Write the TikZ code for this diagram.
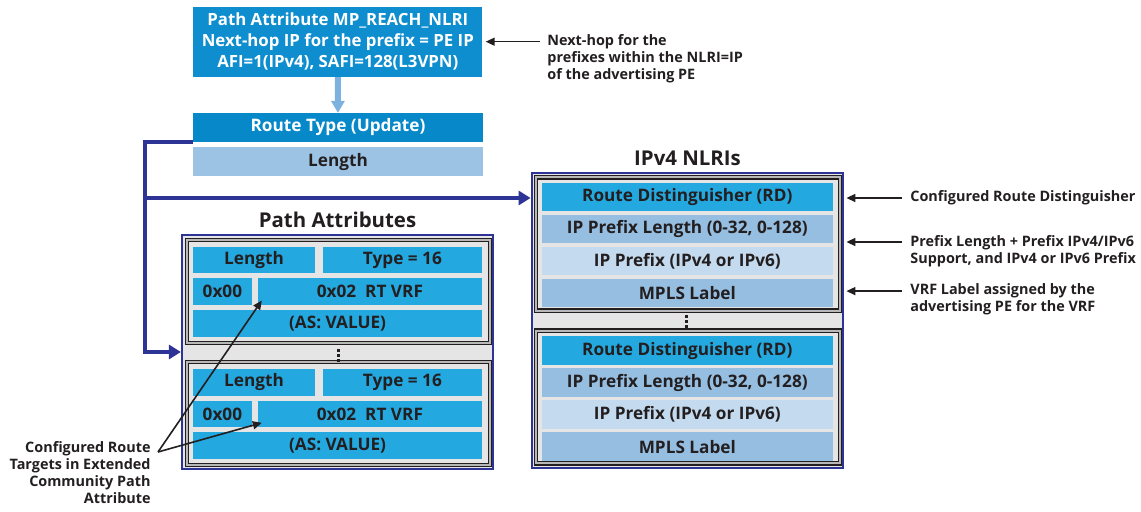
\documentclass[tikz,border=0pt]{standalone}
\usepackage{fontspec}
\setmainfont{Open Sans}
\usepackage{tikz}
\usetikzlibrary{arrows.meta, positioning, calc}
\definecolor{hopblue}{RGB}{14,142,207}
\definecolor{typeblue}{RGB}{6,136,201}
\definecolor{lenblue}{RGB}{157,195,228}
\definecolor{cellblue}{RGB}{36,168,224}
\definecolor{midblue}{RGB}{150,190,225}
\definecolor{paleblue}{RGB}{196,218,238}
\definecolor{panelgray}{RGB}{229,229,229}
\definecolor{trunknavy}{RGB}{46,52,150}
\definecolor{feedblue}{RGB}{125,178,224}
\definecolor{inkdark}{RGB}{35,31,32}
\newcommand{\cellfont}{\fontsize{8.6}{10}\selectfont\bfseries}
\newcommand{\hopfont}{\fontsize{8.4}{10.5}\selectfont\bfseries}
\newcommand{\headfont}{\fontsize{10.2}{12}\selectfont\bfseries}
\newcommand{\notefont}{\fontsize{7.2}{8.5}\selectfont\bfseries}

\begin{document}
\begin{tikzpicture}[
        x=0.5pt, y=-0.5pt,
        node distance=1.4pt,
        field/.style={rectangle, inner sep=0pt, font=\cellfont, text=inkdark, minimum height=13.4pt},
        rdfield/.style={field, fill=cellblue, minimum width=145.3pt, minimum height=14.2pt},
        lenfield/.style={field, fill=midblue, minimum width=145.3pt, minimum height=14.2pt},
        pfxfield/.style={field, fill=paleblue, minimum width=145.3pt, minimum height=14.2pt},
        panel/.style={rectangle, draw=trunknavy, line width=1.1pt, fill=panelgray},
        block/.style={rectangle, draw=inkdark, double=white!72!black, double distance=0.9pt, line width=0.7pt, fill=panelgray},
        heading/.style={font=\headfont, text=inkdark, inner sep=0pt},
        note/.style={font=\notefont, text=inkdark, inner sep=0pt},
        pointer/.style={-{Triangle[length=4.5pt, width=4pt]}, line width=0.8pt, draw=inkdark},
        trunk/.style={-{Triangle[length=6pt, width=7pt]}, line width=2pt, draw=trunknavy, line join=miter},
        feed/.style={-{Triangle[length=6pt, width=6.5pt]}, line width=3pt, draw=feedblue}
    ]
        \useasboundingbox (0,0) rectangle (1141,512);

        \node[rectangle, fill=hopblue, text=white, font=\hopfont, align=center, minimum width=144.5pt, minimum height=35pt, inner sep=0pt] (hop) at (337.8,41.7) {Path Attribute MP\_REACH\_NLRI\\Next-hop IP for the prefix = PE IP\\AFI=1(IPv4), SAFI=128(L3VPN)};
        \node[field, fill=typeblue, text=white, minimum width=145pt, minimum height=14.2pt] (rtype) at (338,127.5) {Route Type (Update)};
        \node[field, fill=lenblue, minimum width=145pt, minimum height=14.5pt, below=2.5pt of rtype] (len) {Length};

        \node[panel, minimum width=155.5pt, minimum height=117pt] (pa) at (337.5,352) {};
        \node[heading, above=3pt of pa] (patitle) {Path Attributes};
        \node[block, minimum width=151.5pt, minimum height=51.5pt] (blkA) at (338.5,291.5) {};
        \node[block, minimum width=151.5pt, minimum height=51.5pt] (blkB) at (338.5,413.5) {};

        \node[field, fill=cellblue, minimum width=61pt] (lenA) at (254,260) {Length};
        \node[field, fill=cellblue, minimum width=79.6pt] (typeA) at (402.4,260) {Type = 16};
        \node[field, fill=cellblue, minimum width=29.3pt] (zeroA) at (222.4,291.7) {0x00};
        \node[field, fill=cellblue, minimum width=112.2pt] (rtA) at (369.9,291.7) {0x02\ \ RT VRF};
        \node[field, fill=cellblue, minimum width=144.5pt] (asA) at (337.6,323.2) {(AS: VALUE)};

        \node[field, fill=cellblue, minimum width=61pt] (lenB) at (254,382.2) {Length};
        \node[field, fill=cellblue, minimum width=79.6pt] (typeB) at (402.4,382.2) {Type = 16};
        \node[field, fill=cellblue, minimum width=29.3pt] (zeroB) at (222.4,414) {0x00};
        \node[field, fill=cellblue, minimum width=112.2pt] (rtB) at (369.9,414) {0x02\ \ RT VRF};
        \node[field, fill=cellblue, minimum width=144.5pt] (asB) at (337.6,445.8) {(AS: VALUE)};

        \foreach \dy in {349.5,354.3,359.1} \fill[inkdark] (336.5,\dy) rectangle ++(3,3);

        \node[panel, minimum width=155.8pt, minimum height=147.5pt] (nlri) at (687.5,320.8) {};
        \node[heading, above=3pt of nlri] (nlrititle) {IPv4 NLRIs};
        \node[block, minimum width=152pt, minimum height=66.7pt] (blkC) at (688,244) {};
        \node[block, minimum width=152pt, minimum height=66.3pt] (blkD) at (688,397) {};

        \node[rdfield] (rdC) at (687.3,197.3) {Route Distinguisher (RD)};
        \node[lenfield, below=of rdC] (pplC) {IP Prefix Length (0-32, 0-128)};
        \node[pfxfield, below=of pplC] (ipC) {IP Prefix (IPv4 or IPv6)};
        \node[lenfield, below=of ipC] (mplsC) {MPLS Label};

        \node[rdfield] (rdD) at (687.3,350.7) {Route Distinguisher (RD)};
        \node[lenfield, below=of rdD] (pplD) {IP Prefix Length (0-32, 0-128)};
        \node[pfxfield, below=of pplD] (ipD) {IP Prefix (IPv4 or IPv6)};
        \node[lenfield, below=of ipD] (mplsD) {MPLS Label};

        \foreach \dy in {315.5,320.5,325.5} \fill[inkdark] (685.3,\dy) rectangle ++(3,3);

        \node[note, anchor=west, align=left] (notehop) at (547,59) {Next-hop for the\\prefixes within the NLRI=IP\\of the advertising PE};
        \node[note, anchor=west] (noteRD) at (910,198) {Configured Route Distinguisher};
        \node[note, anchor=west, align=left] (notePfx) at (910,251) {Prefix Length + Prefix IPv4/IPv6\\Support, and IPv4 or IPv6 Prefix};
        \node[note, anchor=west, align=left] (noteVRF) at (910,299.5) {VRF Label assigned by the\\advertising PE for the VRF};
        \node[note, anchor=north east, align=right] (noteRT) at (151,441) {Configured Route\\Targets in Extended\\Community Path\\Attribute};

        \coordinate (split) at (145,198);
        \coordinate (fork) at ([xshift=3.5pt,yshift=-5.5pt]noteRT.north east);

        \draw[feed] (hop) -- (rtype);
        \draw[trunk] (rtype.south west) -| (split) |- (pa.west);
        \draw[trunk] (split) -- (split -| nlri.west);
        \draw[pointer, shorten >=1.5pt] ([xshift=-3.5pt]notehop.west |- hop.east) -- (hop.east);
        \draw[pointer, shorten >=1pt] ([xshift=-4pt]noteRD.west) -- (noteRD.west -| nlri.east);
        \draw[pointer, shorten >=1pt] ([xshift=-4pt,yshift=4.5pt]notePfx.west) -- ([yshift=4.5pt]notePfx.west -| nlri.east);
        \draw[pointer, shorten >=1pt] ([xshift=-4pt,yshift=4.2pt]noteVRF.west) -- ([yshift=4.2pt]noteVRF.west -| nlri.east);
        \draw[pointer] (fork) -- ($(rtA.south west)+(4.5,-5)$);
        \draw[pointer] (fork) -- ($(rtB.south west)+(4.5,-5)$);
    \end{tikzpicture}
\end{document}
